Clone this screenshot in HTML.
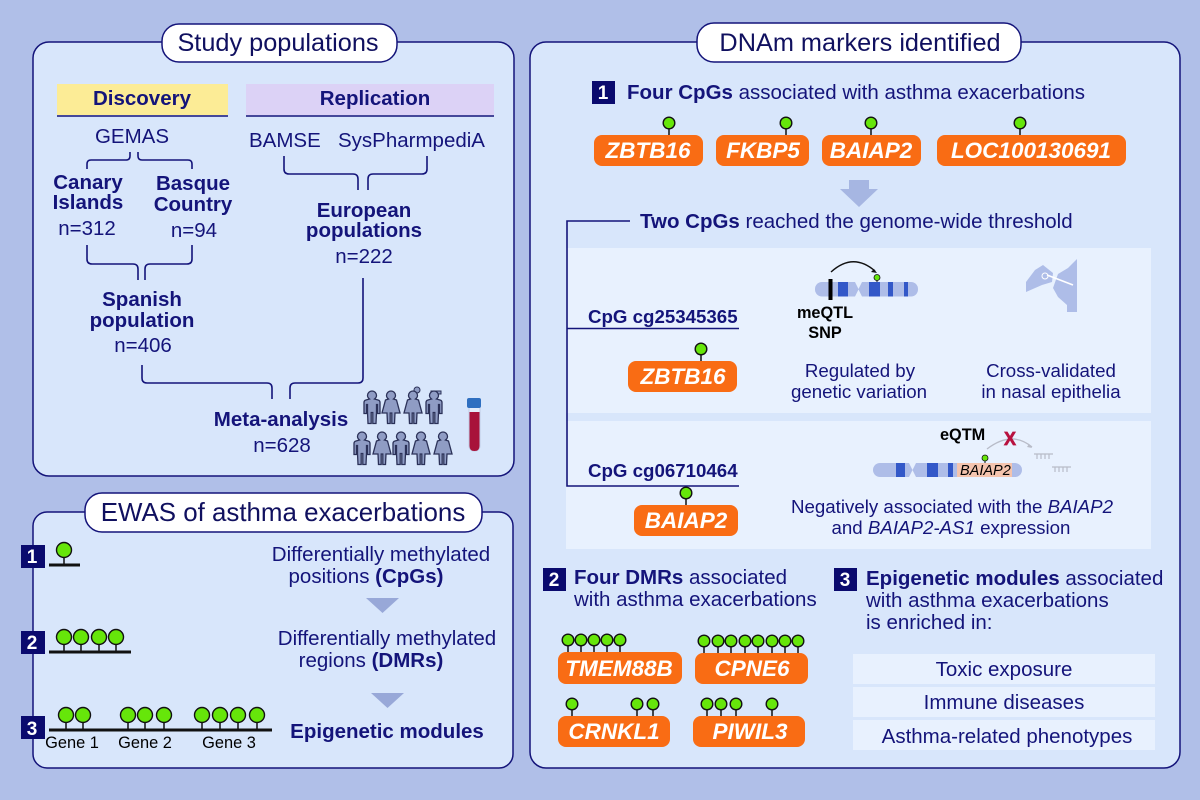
<!DOCTYPE html>
<html><head><meta charset="utf-8"><style>
html,body{margin:0;padding:0;background:#b0bfe8}
svg{display:block}
text{font-family:"Liberation Sans",sans-serif;fill:#14147a;font-size:20.5px}
.m{text-anchor:middle}
.b{font-weight:bold}
.t{font-size:25.3px;fill:#10105f}
.g{font-weight:bold;font-style:italic;fill:#fff;font-size:22.5px;text-anchor:middle}
.k{fill:#000}
.s{font-size:18.7px}
.q{font-size:16.3px}
.p{fill:none;stroke:#14147a;stroke-width:1.6}
.n{font-size:19px;font-weight:bold;fill:#fff;text-anchor:middle}
</style></head><body>
<svg width="1200" height="800" viewBox="0 0 1200 800" xmlns="http://www.w3.org/2000/svg">
<defs>
<g id="l"><line x1="0" y1="0" x2="0" y2="-7" stroke="#111" stroke-width="1.5"/><circle cx="0" cy="-12" r="5.8" fill="#66e60a" stroke="#111" stroke-width="1.4"/></g>
<g id="L"><line x1="0" y1="0" x2="0" y2="-7" stroke="#111" stroke-width="1.5"/><circle cx="0" cy="-14" r="7.5" fill="#66e60a" stroke="#111" stroke-width="1.4"/></g>
<path id="man" d="M-4.500 4.500a4.500 4.500 0 0 1 9 0q0 2-2 3.500l3.500 1q2 .5 2 2.500v11h-2.500v-9h-1v8l-.5 11h-3.200V21.500h-1.600V32.500h-3.200l-.5-11v-8h-1v9h-2.500v-11q0-2 2-2.500l3.500-1q-2-1.500-2-3.500z" fill="#8f9cc4" stroke="#2b3158" stroke-width="1.300"/>
<path id="wom" d="M-4.500 4.500a4.500 4.500 0 0 1 9 0q0 2-2 3.500l3 1L9 22H4L3.500 32.500H.8V22H-.8V32.500H-3.500L-4 22H-9L-5.500 9l3-1q-2-1.500-2-3.500z" fill="#8f9cc4" stroke="#2b3158" stroke-width="1.300"/>
</defs>
<rect width="1200" height="800" fill="#b0bfe8"/>

<!-- Panels -->
<rect x="33" y="42" width="481" height="434" rx="16" fill="#d8e6fb" stroke="#14147a" stroke-width="1.500"/>
<rect x="33" y="512" width="480" height="256" rx="14" fill="#d8e6fb" stroke="#14147a" stroke-width="1.500"/>
<rect x="530" y="42" width="650" height="726" rx="16" fill="#d8e6fb" stroke="#14147a" stroke-width="1.500"/>

<!-- Titles -->
<rect x="162" y="24" width="235" height="38" rx="17" fill="#fff" stroke="#14147a" stroke-width="1.500"/>
<text class="m t" x="278" y="51">Study populations</text>
<rect x="85" y="493" width="397" height="39" rx="17" fill="#fff" stroke="#14147a" stroke-width="1.500"/>
<text class="m t" x="283" y="521" style="font-size:25.900px">EWAS of asthma exacerbations</text>
<rect x="697" y="23" width="324" height="39" rx="17" fill="#fff" stroke="#14147a" stroke-width="1.500"/>
<text class="m t" x="860" y="51">DNAm markers identified</text>

<!-- Study populations -->
<rect x="57" y="84" width="171" height="31" fill="#fcec96"/>
<line x1="57" y1="116" x2="228" y2="116" stroke="#14147a" stroke-width="1.500"/>
<text class="m b" x="142" y="105">Discovery</text>
<rect x="246" y="84" width="248" height="31" fill="#dcd2f6"/>
<line x1="246" y1="116" x2="494" y2="116" stroke="#14147a" stroke-width="1.500"/>
<text class="m b" x="375" y="105">Replication</text>
<text class="m" x="132" y="143">GEMAS</text>
<text x="249" y="147">BAMSE</text>
<text x="338" y="147">SysPharmpediA</text>
<path class="p" d="M87 169v-5q0-4 4-4h35q4 0 4-4v-4M138 152v4q0 4 4 4h46q4 0 4 4v5"/>
<text class="m b" x="88" y="189">Canary</text>
<text class="m b" x="88" y="209">Islands</text>
<text class="m" x="87" y="235">n=312</text>
<text class="m b" x="193" y="190">Basque</text>
<text class="m b" x="193" y="211">Country</text>
<text class="m" x="194" y="237">n=94</text>
<path class="p" d="M87 245v14q0 5 5 5h41q5 0 5 5v11M145 280v-11q0-5 5-5h37q5 0 5-5v-14"/>
<text class="m b" x="142" y="306">Spanish</text>
<text class="m b" x="142" y="327">population</text>
<text class="m" x="143" y="352">n=406</text>
<path class="p" d="M142 365v13q0 5 5 5h120q5 0 5 5v11M290 399v-11q0-5 5-5h63q5 0 5-5V278"/>
<path class="p" d="M284 156v13q0 5 5 5h64q5 0 5 5v11M368 190v-11q0-5 5-5h49q5 0 5-5v-13"/>
<text class="m b" x="364" y="217">European</text>
<text class="m b" x="364" y="237">populations</text>
<text class="m" x="364" y="263">n=222</text>
<text class="m b" x="281" y="426">Meta-analysis</text>
<text class="m" x="282" y="452">n=628</text>
<circle cx="417" cy="390" r="3" fill="#8f9cc4" stroke="#2b3158"/>
<rect x="431" y="391" width="10" height="3" fill="#8f9cc4" stroke="#2b3158"/>
<use href="#man" x="372" y="391"/>
<use href="#wom" x="391" y="391"/>
<use href="#wom" x="413" y="391"/>
<use href="#man" x="434" y="391"/>
<use href="#man" x="362" y="432"/>
<use href="#wom" x="382" y="432"/>
<use href="#man" x="401" y="432"/>
<use href="#wom" x="421" y="432"/>
<use href="#wom" x="443" y="432"/>
<rect x="469" y="404" width="11" height="47" rx="5" fill="#e4ecfa" stroke="#c0cce6"/>
<path d="M469.500 412h10v34q0 5-5 5t-5-5z" fill="#a8123a"/>
<rect x="467" y="398" width="14" height="10" rx="2" fill="#2f6fc0"/>

<!-- EWAS -->
<rect x="21" y="545" width="24" height="23" fill="#0a0a6e"/><text class="n" x="32" y="563">1</text>
<rect x="21" y="631" width="24" height="23" fill="#0a0a6e"/><text class="n" x="32" y="649">2</text>
<rect x="21" y="716" width="24" height="23" fill="#0a0a6e"/><text class="n" x="32" y="735">3</text>
<line x1="49" y1="565" x2="80" y2="565" stroke="#111" stroke-width="3"/>
<use href="#L" x="64" y="564"/>
<line x1="49" y1="652" x2="131" y2="652" stroke="#111" stroke-width="3"/>
<use href="#L" x="64" y="651"/><use href="#L" x="81" y="651"/><use href="#L" x="99" y="651"/><use href="#L" x="116" y="651"/>
<line x1="49" y1="730" x2="272" y2="730" stroke="#111" stroke-width="3"/>
<use href="#L" x="66" y="729"/><use href="#L" x="83" y="729"/><use href="#L" x="128" y="729"/><use href="#L" x="145" y="729"/><use href="#L" x="164" y="729"/><use href="#L" x="202" y="729"/><use href="#L" x="220" y="729"/><use href="#L" x="238" y="729"/><use href="#L" x="257" y="729"/>
<text class="k m" x="72" y="748" style="font-size:16.400px">Gene 1</text>
<text class="k m" x="145" y="748" style="font-size:16.400px">Gene 2</text>
<text class="k m" x="229" y="748" style="font-size:16.400px">Gene 3</text>
<text class="m" x="381" y="561">Differentially methylated</text>
<text class="m" x="366" y="583">positions <tspan class="b">(CpGs)</tspan></text>
<path d="M366 598h33l-16.500 15z" fill="#98a8d8"/>
<text class="m" x="387" y="645">Differentially methylated</text>
<text class="m" x="371" y="667">regions <tspan class="b">(DMRs)</tspan></text>
<path d="M371 693h33l-16.500 15z" fill="#98a8d8"/>
<text class="m b" x="387" y="738">Epigenetic modules</text>

<!-- Right top -->
<rect x="592" y="81" width="23" height="23" fill="#0a0a6e"/><text class="n" x="603" y="99">1</text>
<text x="627" y="99"><tspan class="b">Four CpGs</tspan> associated with asthma exacerbations</text>
<rect x="594" y="135" width="109" height="31" rx="8" fill="#f96c14"/><text class="g" x="648" y="158">ZBTB16</text>
<rect x="716" y="135" width="93" height="31" rx="8" fill="#f96c14"/><text class="g" x="763" y="158">FKBP5</text>
<rect x="822" y="135" width="99" height="31" rx="8" fill="#f96c14"/><text class="g" x="871" y="158">BAIAP2</text>
<rect x="937" y="135" width="189" height="31" rx="8" fill="#f96c14"/><text class="g" x="1031" y="158">LOC100130691</text>
<use href="#l" x="669" y="135"/><use href="#l" x="786" y="135"/><use href="#l" x="871" y="135"/><use href="#l" x="1020" y="135"/>
<path d="M849 180h20v9h9l-19 18-19-18h9z" fill="#a6b6e2"/>
<text x="640" y="228"><tspan class="b">Two CpGs</tspan> reached the genome-wide threshold</text>

<!-- CpG boxes -->
<rect x="566" y="248" width="585" height="165" fill="#e8f1fe"/>
<rect x="566" y="421" width="585" height="128" fill="#e8f1fe"/>
<path class="p" d="M630 221H567V486H739M567 328.500H739"/>
<text class="b" x="588" y="323" style="font-size:18.700px">CpG cg25345365</text>
<text class="b" x="588" y="477" style="font-size:18.700px">CpG cg06710464</text>
<rect x="628" y="361" width="109" height="31" rx="8" fill="#f96c14"/><text class="g" x="683" y="384">ZBTB16</text>
<use href="#l" x="701" y="361"/>
<rect x="634" y="505" width="104" height="31" rx="8" fill="#f96c14"/><text class="g" x="686" y="528">BAIAP2</text>
<use href="#l" x="686" y="505"/>

<!-- chromosome 1 -->
<rect x="815" y="282" width="54" height="14.500" rx="7" fill="#aebde8"/>
<rect x="855" y="282" width="63" height="14.500" rx="7" fill="#aebde8"/>
<path d="M862 282h-7l3.500 7zM862 296.500h-7l3.500-7z" fill="#e8f1fe"/>
<rect x="838" y="282" width="10" height="14.500" fill="#3358c8"/><rect x="869" y="282" width="11" height="14.500" fill="#3358c8"/><rect x="888" y="282" width="5" height="14.500" fill="#3358c8"/><rect x="904" y="282" width="4" height="14.500" fill="#3358c8"/>
<rect x="828.500" y="279" width="4" height="21" fill="#000"/>
<path d="M831 272q22-20 44-1" fill="none" stroke="#111" stroke-width="1.400"/>
<path d="M877 273l-6-1 3-3z" fill="#111"/>
<line x1="877" y1="282" x2="877" y2="277" stroke="#111"/><circle cx="877" cy="277.500" r="3" fill="#66e60a" stroke="#111" stroke-width=".8"/>
<text class="k m b q" x="825" y="318">meQTL</text>
<text class="k m b q" x="825" y="338">SNP</text>
<text class="m s" x="860" y="377">Regulated by</text>
<text class="m s" x="859" y="398">genetic variation</text>
<text class="m s" x="1051" y="377">Cross-validated</text>
<text class="m s" x="1051" y="398">in nasal epithelia</text>
<!-- nose + hand -->
<path d="M1077 259V312H1067V305L1058 297 1053 288 1058 274 1068 268z" fill="#aebde8"/>
<path d="M1026 292V282L1035 270 1043 265 1053 273 1052 282 1042 285z" fill="#aebde8"/>
<line x1="1047" y1="275" x2="1073" y2="285" stroke="#fff" stroke-width="1.600"/>
<circle cx="1045" cy="276" r="3" fill="none" stroke="#fff"/>

<!-- chromosome 2 -->
<rect x="873" y="463" width="44" height="14" rx="7" fill="#aebde8"/>
<rect x="909" y="463" width="113" height="14" rx="7" fill="#aebde8"/>
<path d="M916 463h-7l3.500 7zM916 477h-7l3.500-7z" fill="#e8f1fe"/>
<rect x="896" y="463" width="9" height="14" fill="#3358c8"/><rect x="927" y="463" width="11" height="14" fill="#3358c8"/><rect x="948" y="463" width="5" height="14" fill="#3358c8"/>
<rect x="957" y="463" width="55" height="14" fill="#f4c4ae"/>
<text class="k" x="960" y="475" style="font-size:14.500px;font-style:italic">BAIAP2</text>
<line x1="985" y1="463" x2="985" y2="458" stroke="#111"/><circle cx="985" cy="458" r="3" fill="#66e60a" stroke="#111" stroke-width=".8"/>
<text class="k b q" x="940" y="440">eQTM</text>
<path d="M987 449q25-19 45-2" fill="none" stroke="#b8bcc8" stroke-width="1.300"/>
<path d="M1032 448l-5-1 2-3z" fill="#b8bcc8"/>
<text x="1010" y="445" class="m b" style="font-size:18px;fill:#b8123f;stroke:#b8123f;stroke-width:.7">X</text>
<path d="M1034 454h19M1037 454v5M1041 454v5M1045 454v5M1049 454v5M1052 467h19M1055 467v5M1059 467v5M1063 467v5M1067 467v5" stroke="#b8bcc8" stroke-width="1.200" fill="none"/>
<text class="m s" x="952" y="513">Negatively associated with the <tspan font-style="italic">BAIAP2</tspan></text>
<text class="m s" x="951" y="534">and <tspan font-style="italic">BAIAP2-AS1</tspan> expression</text>

<!-- 2 DMRs -->
<rect x="543" y="568" width="23" height="23" fill="#0a0a6e"/><text class="n" x="554" y="586">2</text>
<text x="574" y="584"><tspan class="b">Four DMRs</tspan> associated</text>
<text x="574" y="606">with asthma exacerbations</text>
<rect x="558" y="652" width="124" height="32" rx="8" fill="#f96c14"/><text class="g" x="619" y="676">TMEM88B</text>
<rect x="695" y="653" width="113" height="31" rx="8" fill="#f96c14"/><text class="g" x="752" y="676">CPNE6</text>
<rect x="558" y="716" width="112" height="31" rx="8" fill="#f96c14"/><text class="g" x="614" y="739">CRNKL1</text>
<rect x="693" y="716" width="112" height="31" rx="8" fill="#f96c14"/><text class="g" x="750" y="739">PIWIL3</text>
<use href="#l" x="568" y="652"/><use href="#l" x="581" y="652"/><use href="#l" x="594" y="652"/><use href="#l" x="607" y="652"/><use href="#l" x="620" y="652"/>
<use href="#l" x="704" y="653"/><use href="#l" x="718" y="653"/><use href="#l" x="731" y="653"/><use href="#l" x="745" y="653"/><use href="#l" x="758" y="653"/><use href="#l" x="772" y="653"/><use href="#l" x="785" y="653"/><use href="#l" x="798" y="653"/>
<use href="#l" x="572" y="716"/><use href="#l" x="637" y="716"/><use href="#l" x="653" y="716"/>
<use href="#l" x="707" y="716"/><use href="#l" x="721" y="716"/><use href="#l" x="736" y="716"/><use href="#l" x="772" y="716"/>

<!-- 3 modules -->
<rect x="834" y="568" width="23" height="23" fill="#0a0a6e"/><text class="n" x="845" y="586">3</text>
<text x="866" y="585"><tspan class="b">Epigenetic modules</tspan> associated</text>
<text x="866" y="607">with asthma exacerbations</text>
<text x="866" y="629">is enriched in:</text>
<rect x="853" y="654" width="302" height="30" fill="#e8f1fe"/>
<rect x="853" y="687" width="302" height="30" fill="#e8f1fe"/>
<rect x="853" y="720" width="302" height="30" fill="#e8f1fe"/>
<text class="m" x="1004" y="676">Toxic exposure</text>
<text class="m" x="1004" y="709">Immune diseases</text>
<text class="m" x="1007" y="743">Asthma-related phenotypes</text>
</svg>
</body></html>
